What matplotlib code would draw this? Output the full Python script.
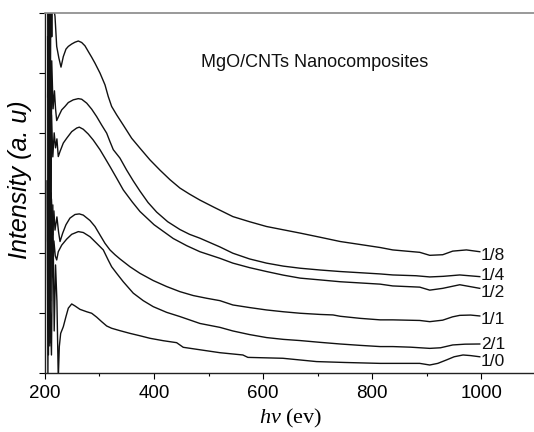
import matplotlib
matplotlib.use("Agg")
import matplotlib.pyplot as plt

plt.rcParams['font.family'] = ['Liberation Sans', 'DejaVu Sans']
plt.rcParams['mathtext.fontset'] = 'custom'
plt.rcParams['mathtext.it'] = 'Liberation Serif:italic'
plt.rcParams['mathtext.rm'] = 'Liberation Serif'

labels = ["1/8", "1/4", "1/2", "1/1", "2/1", "1/0"]

x_18 = [205, 206.5, 208, 209.5, 211, 212.5, 214, 216, 218.5, 221.6, 225.5, 229.5, 233.7, 238.6, 242.9,
        249.1, 255.1, 261.2, 267.4, 273.4, 279.5, 285.7, 291.8, 301.0, 310.1, 316.1, 322.3, 331.5,
        343.6, 359.0, 374.2, 392.5, 410.8, 429.2, 447.5, 465, 484.1, 510, 544.5, 575, 606.2, 637,
        667.9, 705, 741.2, 778, 814.4, 837.5, 862, 887.0, 905.3, 929.1, 947.4, 972.5, 997]
y_18 = [6.6, 2.5, 6.6, 3.5, 6.6, 5.6, 6.6, 6.1, 5.94, 5.44, 5.25, 5.095, 5.27, 5.395, 5.44,
        5.48, 5.51, 5.53, 5.505, 5.45, 5.355, 5.26, 5.16, 4.995, 4.80, 4.605, 4.44, 4.30,
        4.13, 3.91, 3.745, 3.55, 3.38, 3.22, 3.08, 2.98, 2.88, 2.76, 2.605, 2.52, 2.44, 2.385,
        2.33, 2.26, 2.19, 2.14, 2.09, 2.05, 2.03, 2.01, 1.96, 1.97, 2.03, 2.05, 2.02]

x_14 = [205, 206.5, 208.5, 210.5, 212.5, 215, 217.5, 219.5, 221.6, 226.4, 230.8, 236.8, 242.9, 252.0,
        261.2, 267.4, 276.6, 285.7, 294.9, 304.0, 313.2, 319.2, 325.3, 337.5, 349.8, 361.9, 374.2,
        389, 404.8, 425, 447.4, 465, 484.1, 520.7, 544.5, 575, 606.2, 637, 667.9, 705, 741.2, 778,
        814.4, 837.5, 880, 905.3, 930, 960.3, 997]
y_14 = [5.6, 0.3, 6.6, 1.2, 5.2, 4.4, 4.7, 4.4, 4.205, 4.30, 4.383, 4.44, 4.505, 4.55,
        4.57, 4.56, 4.495, 4.395, 4.27, 4.13, 3.995, 3.855, 3.72, 3.58, 3.38, 3.20, 3.03,
        2.84, 2.68, 2.52, 2.39, 2.31, 2.245, 2.10, 1.995, 1.90, 1.83, 1.78, 1.745, 1.715, 1.69, 1.67,
        1.65, 1.633, 1.62, 1.60, 1.61, 1.633, 1.605]

x_12 = [205, 207, 209.5, 212, 214.5, 217, 219.5, 222, 224.5, 227.7, 233.7, 239.9, 249.1, 258.2,
        263.0, 270.3, 279.5, 288.6, 300.9, 310.1, 319.2, 331.5, 343.6, 360, 374.2, 400, 435.2, 460,
        484.1, 520.8, 544.5, 575, 606.2, 637, 667.9, 705, 741.2, 778, 814.4, 837.5, 887.0, 905.3,
        929.1, 960.3, 997]
y_12 = [4.6, 6.6, 0.5, 4.3, 3.6, 4.0, 3.75, 3.9, 3.605, 3.69, 3.83, 3.91, 4.02, 4.08,
        4.095, 4.06, 3.98, 3.88, 3.72, 3.58, 3.44, 3.245, 3.05, 2.85, 2.69, 2.47, 2.24, 2.12,
        2.02, 1.91, 1.83, 1.755, 1.69, 1.63, 1.58, 1.55, 1.52, 1.50, 1.48, 1.45, 1.43, 1.38,
        1.41, 1.47, 1.41]

x_11 = [204, 205.5, 207.5, 210, 212, 214.5, 216.5, 218.5, 222, 225, 227.7, 232.6, 238.6, 245.9, 255.1,
        263.0, 270.3, 282.6, 291.8, 300.9, 310.1, 319.2, 328.4, 337.5, 355.9, 374.2, 398.5, 423.1,
        447.4, 471.8, 496.3, 520.7, 544.5, 575, 606.2, 637, 667.9, 705, 728, 741, 778, 814.4, 837.5,
        862, 887.0, 905.3, 929.1, 947, 960.3, 980, 997]
y_11 = [3.2, 0.0, 4.4, 0.6, 2.9, 2.3, 2.7, 2.38, 2.6, 2.35, 2.19, 2.33, 2.47, 2.58, 2.64,
        2.65, 2.63, 2.54, 2.44, 2.30, 2.16, 2.05, 1.97, 1.90, 1.77, 1.66, 1.54, 1.44,
        1.355, 1.29, 1.245, 1.205, 1.133, 1.09, 1.05, 1.02, 0.995, 0.975, 0.967, 0.945, 0.91, 0.885, 0.885,
        0.88, 0.875, 0.855, 0.88, 0.935, 0.96, 0.965, 0.95]

x_21 = [205, 207, 209, 211.5, 214, 216.5, 219, 221.6, 224.5, 230.8, 239.9, 249.1, 261.2, 270.3, 282.6,
        294.9, 307.0, 316.1, 322.3, 331.5, 343.6, 361.9, 380.2, 398.5, 423.1, 447.4, 484.1, 520.7,
        544.5, 575, 606.2, 637, 667.9, 705, 741.2, 778, 814.4, 837.5, 870, 905.3, 925, 947.4, 970, 997]
y_21 = [2.2, 5.0, 0.45, 3.0, 1.6, 2.2, 1.95, 1.883, 2.02, 2.13, 2.23, 2.31, 2.355, 2.34, 2.27,
        2.16, 2.05, 1.88, 1.77, 1.66, 1.52, 1.33, 1.205, 1.105, 1.01, 0.94, 0.825, 0.76,
        0.70, 0.64, 0.59, 0.56, 0.54, 0.51, 0.483, 0.46, 0.44, 0.44, 0.43, 0.41, 0.42, 0.467, 0.48, 0.483]

x_10 = [210, 212, 214.5, 217, 219.5, 222, 224.5, 226.4, 228.9, 233.7, 238.6, 242.9, 249.1, 255.1,
        264.3, 276.6, 285.7, 294.9, 304.0, 313.2, 322.3, 337.5, 355.9, 374.2, 392.5, 416.8, 441.4,
        447.4, 453.5, 478.0, 520.7, 562.8, 572.0, 636.1, 697.8, 750, 814.4, 887.0, 905.3, 920,
        935.9, 950, 966.3, 980, 997]
y_10 = [1.0, 0.3, 2.8, 0.7, 1.8, 1.2, -0.1, 0.44, 0.66, 0.77, 0.94, 1.08, 1.15, 1.117,
        1.06, 1.02, 0.995, 0.93, 0.855, 0.783, 0.745, 0.705, 0.66, 0.62, 0.578, 0.538, 0.505,
        0.467, 0.428, 0.395, 0.338, 0.30, 0.26, 0.245, 0.19, 0.175, 0.16, 0.16, 0.133, 0.16,
        0.217, 0.27, 0.30, 0.29, 0.27]

label_y = [1.95, 1.617, 1.333, 0.883, 0.467, 0.188]

series = [(x_18, y_18), (x_14, y_14), (x_12, y_12), (x_11, y_11), (x_21, y_21), (x_10, y_10)]

fig = plt.figure(figsize=(5.34, 4.32), dpi=100)
ax = fig.add_axes([0.0841, 0.1366, 0.9196, 0.8338])

for (xs, ys) in series:
    ax.plot(xs, ys, color='#111111', lw=1.0, solid_joinstyle='round')

for lab, ly in zip(labels, label_y):
    ax.text(999, ly, lab, fontsize=12.5, ha='left', va='center', color='#111111')

ax.text(0.318, 0.861, "MgO/CNTs Nanocomposites", transform=ax.transAxes, fontsize=13,
        ha='left', va='center', color='#111111')

ax.set_xlim(200, 1100)
ax.set_ylim(0, 6)
ax.set_xticks([200, 400, 600, 800, 1000])
ax.set_xticks([300, 500, 700, 900], minor=True)
ax.set_yticks([0, 1, 2, 3, 4, 5, 6])
ax.set_yticklabels([])
ax.tick_params(axis='x', which='major', length=4.5, width=0.8, labelsize=13.5, pad=4)
ax.tick_params(axis='x', which='minor', length=2.5, width=0.8)
ax.tick_params(axis='y', which='major', length=4.5, width=0.8)

for s in ['left', 'bottom']:
    ax.spines[s].set_color('#222222')
    ax.spines[s].set_linewidth(1.0)
ax.spines['top'].set_color('#888888')
ax.spines['top'].set_linewidth(1.2)
ax.spines['right'].set_visible(False)

ax.set_xlabel(r'$\mathit{hv}$ (ev)', fontsize=16, fontfamily='Liberation Serif', labelpad=4)
ax.set_ylabel('Intensity (a. u)', fontsize=18, fontstyle='italic')
ax.yaxis.set_label_coords(-0.026, 0.536)

fig.savefig('out.png', dpi=100)
